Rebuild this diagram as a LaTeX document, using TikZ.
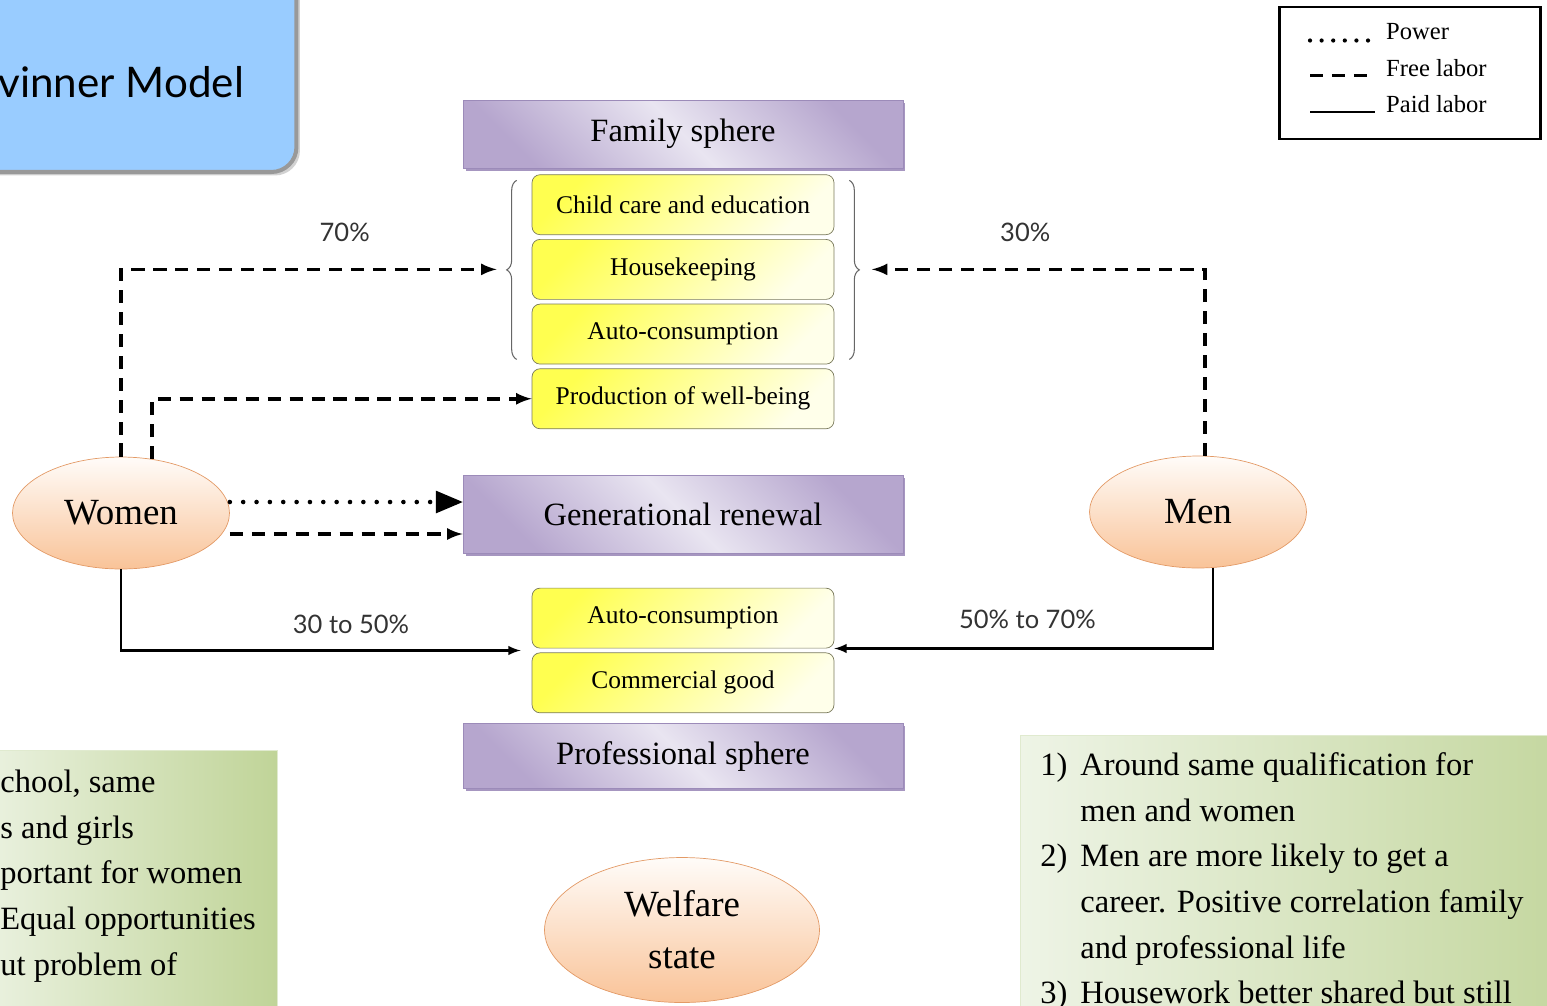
\documentclass[tikz,border=0pt]{standalone}
\usepackage{fontspec}
\setmainfont{Liberation Serif}
\newfontfamily\gillfont{Lato}
\usepackage{tikz}
\usetikzlibrary{positioning,shapes,shadows,arrows,calc,decorations.pathreplacing}

\definecolor{titleblue}{HTML}{99CCFF}
\definecolor{lavdark}{HTML}{B6A6CE}
\definecolor{lavlight}{HTML}{E9E5F1}
\definecolor{lavline}{HTML}{9C8BB9}
\definecolor{yellowtop}{HTML}{FFFF50}
\definecolor{yellowlow}{HTML}{FFFFEA}
\definecolor{yellowline}{HTML}{7A7A5C}
\definecolor{peachtop}{HTML}{FFFCF9}
\definecolor{peachlow}{HTML}{F9C398}
\definecolor{peachline}{HTML}{E39A66}
\definecolor{greenlight}{HTML}{EEF4E6}
\definecolor{greendark}{HTML}{C0D498}

\begin{document}
\begin{tikzpicture}[x=0.02cm, y=-0.02cm, node distance=0.08cm,
    sphere/.style={draw=lavline, rectangle, minimum width=8.8cm, left color=lavdark, right color=lavdark, middle color=lavlight, shading angle=135, drop shadow={shadow xshift=0.05cm, shadow yshift=-0.05cm, fill=lavline, opacity=0.9}, font=\fontsize{18.5}{22}\selectfont},
    task/.style={draw=yellowline, rectangle, rounded corners=0.16cm, minimum width=6.04cm, minimum height=1.2cm, top color=yellowtop, bottom color=yellowlow, shading angle=45, font=\fontsize{14.5}{17}\selectfont},
    actor/.style={draw=peachline, ellipse, minimum width=4.34cm, minimum height=2.24cm, inner sep=0pt, top color=peachtop, bottom color=peachlow, font=\fontsize{21}{29.5}\selectfont},
    note/.style={draw=greenlight!70!greendark, rectangle, left color=greenlight, right color=greendark, minimum height=6cm, anchor=north west},
    notetext/.style={anchor=north west, inner sep=0pt, font=\fontsize{18.5}{26}\selectfont},
    freelabor/.style={line width=2pt, dash pattern=on 7.5pt off 5pt, -latex},
    power/.style={line width=2.6pt, dash pattern=on 0pt off 7.6pt, line cap=round, -triangle 45},
    paidlabor/.style={line width=1.4pt, -latex},
    share/.style={font=\gillfont\fontsize{14.5}{17}\selectfont, text=black!80},
    curly/.style={draw=black!60, line width=0.6pt, decorate, decoration={brace, amplitude=0.2cm}},
    legendkey/.style={anchor=west, font=\fontsize{14}{16}\selectfont}]
    \useasboundingbox (0,0) rectangle (1547,1005);
    \clip (0,0) rectangle (1547,1005);

    % title
    \node[draw=black!40, line width=2.3pt, fill=titleblue, rounded corners=0.5cm, minimum width=6.7cm, minimum height=4.24cm, drop shadow={shadow xshift=0.07cm, shadow yshift=-0.07cm, fill=black!35}](titlebox) at (129,66){};
    \node[anchor=base west, inner sep=0pt, font=\gillfont\fontsize{24}{30}\selectfont](titletext) at (-2,97){vinner Model};

    % legend
    \node[draw, line width=1.2pt, minimum width=5.22cm, minimum height=2.64cm](legend) at (1410,73){};
    \node[legendkey](powerkey) at (1380,32){Power};
    \node[legendkey, below=0.72cm of powerkey.west, anchor=west](freekey){Free labor};
    \node[legendkey, below=0.72cm of freekey.west, anchor=west](paidkey){Paid labor};
    \draw[power,-, line width=2.4pt, dash pattern=on 0pt off 6.6pt] ([xshift=-1.4cm,yshift=-0.17cm]powerkey.west) -- ([xshift=-0.1cm,yshift=-0.17cm]powerkey.west);
    \draw[freelabor,-] ([xshift=-1.4cm,yshift=-0.15cm]freekey.west) -- ([xshift=-0.1cm,yshift=-0.15cm]freekey.west);
    \draw[paidlabor,-, line width=1.6pt] ([xshift=-1.4cm,yshift=-0.16cm]paidkey.west) -- ([xshift=-0.1cm,yshift=-0.16cm]paidkey.west);

    % family sphere
    \node[sphere, minimum height=1.36cm](family) at (683,134){Family sphere};
    \node[task, below=0.12cm of family](childcare){Child care and education};
    \node[task, below=of childcare](housekeeping){Housekeeping};
    \node[task, below=of housekeeping](autoup){Auto-consumption};
    \node[task, below=of autoup](wellbeing){Production of well-being};
    \draw[curly] ([xshift=-0.3cm,yshift=0.1cm]autoup.south west) -- ([xshift=-0.3cm,yshift=-0.12cm]childcare.north west);
    \draw[curly] ([xshift=0.3cm,yshift=-0.12cm]childcare.north east) -- ([xshift=0.3cm,yshift=0.1cm]autoup.south east);
    \coordinate[left=0.5cm of housekeeping](leftcurl);
    \coordinate[right=0.5cm of housekeeping](rightcurl);

    \node[sphere, minimum height=1.56cm](renewal) at (683,514){Generational renewal};

    % professional sphere
    \node[sphere, minimum height=1.3cm](professional) at (683,756){Professional sphere};
    \node[task, above=0.2cm of professional](commercial){Commercial good};
    \node[task, above=of commercial](autodown){Auto-consumption};

    % actors
    \node[actor](women) at (121,513){Women};
    \node[actor](men) at (1198,512){Men};
    \node[actor, minimum width=5.5cm, minimum height=2.9cm, align=center](welfare) at (682,930){Welfare\\state};

    % connectors
    \draw[freelabor, shorten >=0.2cm](women.north) |- (leftcurl) node[share, pos=0.79, above=0.4cm]{70\%};
    \draw[freelabor](women.60) |- (wellbeing.west);
    \draw[power]([yshift=0.22cm]women.east) -- ([yshift=0.22cm]women.east -| renewal.west);
    \draw[freelabor]([yshift=-0.42cm]women.east) -- ([yshift=-0.42cm]women.east -| renewal.west);
    \draw[paidlabor, shorten >=0.22cm](women.south) |- ($(autodown.south west)!0.5!(commercial.north west)$) node[share, pos=0.78, above=0.2cm]{30 to 50\%};
    \draw[freelabor, shorten >=0.25cm](men.83) |- (rightcurl) node[share, pos=0.76, above=0.4cm]{30\%};
    \draw[paidlabor](men.-75) |- (autodown.south east) node[share, pos=0.745, above=0.26cm]{50\% to 70\%};

    % notes
    \node[note, minimum width=6.34cm](leftnote) at (-40,750){};
    \node[notetext](lefttext) at ([xshift=0.8cm,yshift=-0.2cm]leftnote.north west){\begin{tabular}{@{}l@{}}chool, same\\s and girls\\portant for women\\Equal opportunities\\ut problem of\end{tabular}};
    \node[note, minimum width=12cm](rightnote) at (1020,735){};
    \node[notetext](righttext) at ([xshift=0.4cm,yshift=-0.16cm]rightnote.north west){\begin{tabular}{@{}l@{\hspace{0.26cm}}l@{}}1) & Around same qualification for\\ & men and women\\2) & Men are more likely to get a\\ & career. Positive correlation family\\ & and professional life\\3) & Housework better shared but still\end{tabular}};
\end{tikzpicture}
\end{document}
